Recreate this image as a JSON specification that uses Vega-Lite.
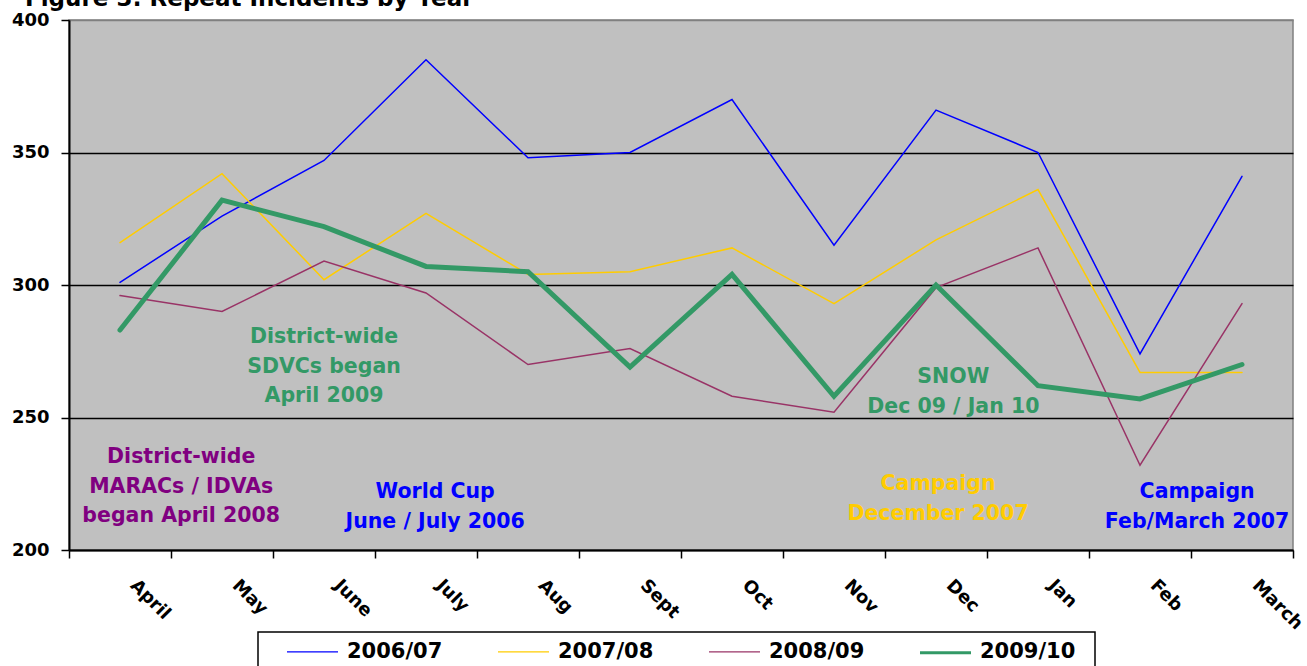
{
  "$schema": "https://vega.github.io/schema/vega-lite/v6.json",
  "width": 1224,
  "height": 530,
  "autosize": {"type": "none"},
  "padding": {"left": 69, "top": 20, "right": 14, "bottom": 116},
  "background": "white",
  "title": {
    "text": "Figure 3: Repeat Incidents by Year",
    "anchor": "start",
    "frame": "group",
    "dx": -44,
    "offset": 0,
    "font": "DejaVu Sans",
    "fontWeight": "bold",
    "fontSize": 23,
    "color": "black"
  },
  "config": {
    "view": {"fill": "#C0C0C0", "stroke": "#808080", "strokeWidth": 1.5},
    "axis": {
      "domainColor": "black",
      "domainWidth": 2,
      "tickColor": "black",
      "tickWidth": 1.5,
      "tickSize": 8,
      "labelFont": "DejaVu Sans",
      "labelFontWeight": "bold",
      "labelFontSize": 18,
      "labelColor": "black"
    },
    "text": {"font": "DejaVu Sans"}
  },
  "datasets": {
    "incidents": [
      {"month": "April", "series": "2006/07", "value": 301},
      {"month": "May", "series": "2006/07", "value": 326},
      {"month": "June", "series": "2006/07", "value": 347},
      {"month": "July", "series": "2006/07", "value": 385},
      {"month": "Aug", "series": "2006/07", "value": 348},
      {"month": "Sept", "series": "2006/07", "value": 350},
      {"month": "Oct", "series": "2006/07", "value": 370},
      {"month": "Nov", "series": "2006/07", "value": 315},
      {"month": "Dec", "series": "2006/07", "value": 366},
      {"month": "Jan", "series": "2006/07", "value": 350},
      {"month": "Feb", "series": "2006/07", "value": 274},
      {"month": "March", "series": "2006/07", "value": 341},
      {"month": "April", "series": "2007/08", "value": 316},
      {"month": "May", "series": "2007/08", "value": 342},
      {"month": "June", "series": "2007/08", "value": 302},
      {"month": "July", "series": "2007/08", "value": 327},
      {"month": "Aug", "series": "2007/08", "value": 304},
      {"month": "Sept", "series": "2007/08", "value": 305},
      {"month": "Oct", "series": "2007/08", "value": 314},
      {"month": "Nov", "series": "2007/08", "value": 293},
      {"month": "Dec", "series": "2007/08", "value": 317},
      {"month": "Jan", "series": "2007/08", "value": 336},
      {"month": "Feb", "series": "2007/08", "value": 267},
      {"month": "March", "series": "2007/08", "value": 267},
      {"month": "April", "series": "2008/09", "value": 296},
      {"month": "May", "series": "2008/09", "value": 290},
      {"month": "June", "series": "2008/09", "value": 309},
      {"month": "July", "series": "2008/09", "value": 297},
      {"month": "Aug", "series": "2008/09", "value": 270},
      {"month": "Sept", "series": "2008/09", "value": 276},
      {"month": "Oct", "series": "2008/09", "value": 258},
      {"month": "Nov", "series": "2008/09", "value": 252},
      {"month": "Dec", "series": "2008/09", "value": 299},
      {"month": "Jan", "series": "2008/09", "value": 314},
      {"month": "Feb", "series": "2008/09", "value": 232},
      {"month": "March", "series": "2008/09", "value": 293},
      {"month": "April", "series": "2009/10", "value": 283},
      {"month": "May", "series": "2009/10", "value": 332},
      {"month": "June", "series": "2009/10", "value": 322},
      {"month": "July", "series": "2009/10", "value": 307},
      {"month": "Aug", "series": "2009/10", "value": 305},
      {"month": "Sept", "series": "2009/10", "value": 269},
      {"month": "Oct", "series": "2009/10", "value": 304},
      {"month": "Nov", "series": "2009/10", "value": 258},
      {"month": "Dec", "series": "2009/10", "value": 300},
      {"month": "Jan", "series": "2009/10", "value": 262},
      {"month": "Feb", "series": "2009/10", "value": 257},
      {"month": "March", "series": "2009/10", "value": 270}
    ],
    "notes": [
      {"note": "maracs", "pos": 0.6, "value": 232.8, "text": "District-wide\nMARACs / IDVAs\nbegan April 2008"},
      {"note": "sdvc", "pos": 2.0, "value": 278.1, "text": "District-wide\nSDVCs began\nApril 2009"},
      {"note": "worldcup", "pos": 3.09, "value": 219.6, "text": "World Cup\nJune / July 2006"},
      {"note": "campaigndec", "pos": 8.02, "value": 222.6, "text": "Campaign\nDecember 2007"},
      {"note": "snow", "pos": 8.17, "value": 263, "text": "SNOW\nDec 09 / Jan 10"},
      {"note": "campaignfeb", "pos": 10.56, "value": 219.6, "text": "Campaign\nFeb/March 2007"}
    ]
  },
  "layer": [
    {
      "data": {"name": "incidents"},
      "mark": {"type": "line", "strokeCap": "round"},
      "encoding": {
        "x": {
          "field": "month",
          "type": "ordinal",
          "sort": ["April", "May", "June", "July", "Aug", "Sept", "Oct", "Nov", "Dec", "Jan", "Feb", "March"],
          "scale": {"type": "band", "paddingInner": 0, "paddingOuter": 0},
          "axis": {
            "title": null,
            "tickBand": "extent",
            "labelAngle": 45,
            "labelAlign": "left",
            "labelBaseline": "top",
            "labelOffset": 19,
            "labelPadding": 18,
            "grid": false
          }
        },
        "y": {
          "field": "value",
          "type": "quantitative",
          "scale": {"domain": [200, 400], "nice": false, "zero": false},
          "axis": {
            "title": null,
            "values": [200, 250, 300, 350, 400],
            "grid": true,
            "gridColor": {"condition": {"test": "datum.value == 400", "value": "#808080"}, "value": "black"},
            "gridWidth": 1.5,
            "labelPadding": 12
          }
        },
        "color": {
          "field": "series",
          "type": "nominal",
          "scale": {"domain": ["2006/07", "2007/08", "2008/09", "2009/10"], "range": ["#0000FF", "#FFCC00", "#993366", "#339966"]},
          "legend": {
            "orient": "none",
            "legendX": 189,
            "legendY": 612,
            "direction": "horizontal",
            "title": null,
            "strokeColor": "black",
            "fillColor": "white",
            "padding": 19,
            "clipHeight": 1,
            "symbolType": "stroke",
            "symbolSize": 2601,
            "symbolOffset": 9,
            "labelOffset": 8,
            "columnPadding": 45,
            "labelFont": "DejaVu Sans",
            "labelFontWeight": "bold",
            "labelFontSize": 21,
            "labelColor": "black",
            "encode": {
              "legend": {"update": {"strokeWidth": {"value": 1.5}}},
              "symbols": {"update": {"strokeWidth": {"signal": "(datum.value === '2009/10' ? 5 : 1.5)"}}}
            }
          }
        },
        "strokeWidth": {
          "field": "series",
          "type": "nominal",
          "scale": {"type": "ordinal", "domain": ["2006/07", "2007/08", "2008/09", "2009/10"], "range": [1.5, 1.5, 1.5, 5]}
        }
      }
    },
    {
      "data": {"name": "notes"},
      "mark": {"type": "text", "font": "DejaVu Sans", "fontWeight": "bold", "fontSize": 20.5, "align": "center", "baseline": "alphabetic", "lineBreak": "\n", "lineHeight": 29.5},
      "encoding": {
        "x": {"field": "pos", "type": "quantitative", "scale": {"domain": [-0.5, 11.5], "nice": false, "zero": false}, "axis": null},
        "y": {"field": "value", "type": "quantitative"},
        "text": {"field": "text", "type": "nominal"},
        "color": {
          "field": "note",
          "type": "nominal",
          "scale": {"domain": ["maracs", "sdvc", "worldcup", "campaigndec", "snow", "campaignfeb"], "range": ["#800080", "#339966", "#0000FF", "#FFCC00", "#339966", "#0000FF"]},
          "legend": null
        }
      }
    }
  ],
  "resolve": {"scale": {"x": "independent", "color": "independent"}}
}
